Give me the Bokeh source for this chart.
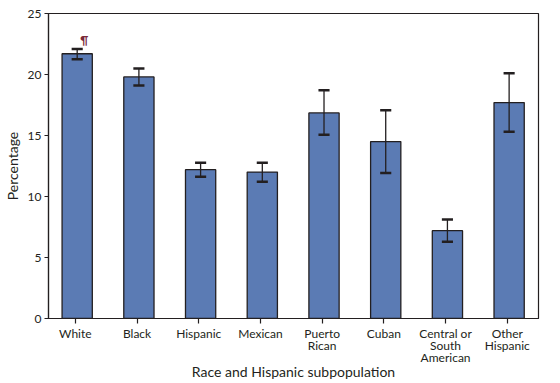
from bokeh.plotting import figure
from bokeh.models import FixedTicker, Range1d, Label, ColumnDataSource
from bokeh.embed import file_html
from bokeh.resources import INLINE

categories = ["White", "Black", "Hispanic", "Mexican", "Puerto\nRican", "Cuban",
              "Central or\nSouth\nAmerican", "Other\nHispanic"]
values = [21.7, 19.8, 12.2, 12.0, 16.85, 14.5, 7.2, 17.7]
lower = [21.25, 19.1, 11.62, 11.2, 15.07, 11.92, 6.3, 15.3]
upper = [22.1, 20.5, 12.77, 12.77, 18.7, 17.06, 8.12, 20.1]
y_ticks = [0, 5, 10, 15, 20, 25]

FONT = "Lato"
DARK = "#231f20"

xs = list(range(len(categories)))
bar_x = [x + 0.03 for x in xs]
src = ColumnDataSource(dict(
    x=bar_x, top=values, lo=lower, hi=upper,
    cl=[x - 0.09 for x in bar_x], cr=[x + 0.09 for x in bar_x],
))

p = figure(width=560, height=383, output_backend="svg", toolbar_location=None,
           x_range=Range1d(-0.435, 7.506), y_range=Range1d(0, 25),
           min_border_left=43, min_border_right=22, min_border_top=13, min_border_bottom=65)

p.vbar(x="x", top="top", width=0.49, bottom=0, source=src,
       fill_color="#5b7bb4", line_color=DARK, line_width=1.3)
p.segment(x0="x", y0="lo", x1="x", y1="hi", source=src, line_color=DARK, line_width=1.3)
p.segment(x0="cl", y0="hi", x1="cr", y1="hi", source=src, line_color=DARK, line_width=2.5)
p.segment(x0="cl", y0="lo", x1="cr", y1="lo", source=src, line_color=DARK, line_width=2.5)

p.add_layout(Label(x=0.08, y=22.35, text="¶", text_font=FONT, text_font_size="11px",
                   text_font_style="bold", text_color="#7a2a3a"))

p.xgrid.visible = False
p.ygrid.visible = False
p.outline_line_color = DARK
p.outline_line_width = 1.2

p.xaxis.ticker = FixedTicker(ticks=xs)
p.xaxis.major_label_overrides = {i: c for i, c in enumerate(categories)}
p.yaxis.ticker = FixedTicker(ticks=y_ticks)
p.xaxis.minor_tick_line_color = None
p.yaxis.minor_tick_line_color = None
for ax in (p.xaxis, p.yaxis):
    ax.axis_line_color = DARK
    ax.axis_line_width = 1.2
    ax.major_tick_line_color = DARK
    ax.major_tick_line_width = 1.2
    ax.major_tick_in = 0
    ax.major_label_text_font = FONT
    ax.major_label_text_font_size = "12px"
    ax.major_label_text_color = DARK
    ax.axis_label_text_font = FONT
    ax.axis_label_text_font_size = "14px"
    ax.axis_label_text_font_style = "normal"
    ax.axis_label_text_color = DARK
p.xaxis.major_label_text_line_height = 0.8
p.xaxis.major_tick_out = 5
p.yaxis.major_tick_out = 4
p.xaxis.major_label_standoff = 2
p.yaxis.major_label_standoff = 3
p.yaxis.axis_label = "Percentage"
p.xaxis.axis_label = "Race and Hispanic subpopulation"
p.yaxis.axis_label_standoff = 4
p.xaxis.axis_label_standoff = -5
p.xaxis.axis_label_text_line_height = 0.9

open("out.html", "w").write(file_html(p, INLINE))
